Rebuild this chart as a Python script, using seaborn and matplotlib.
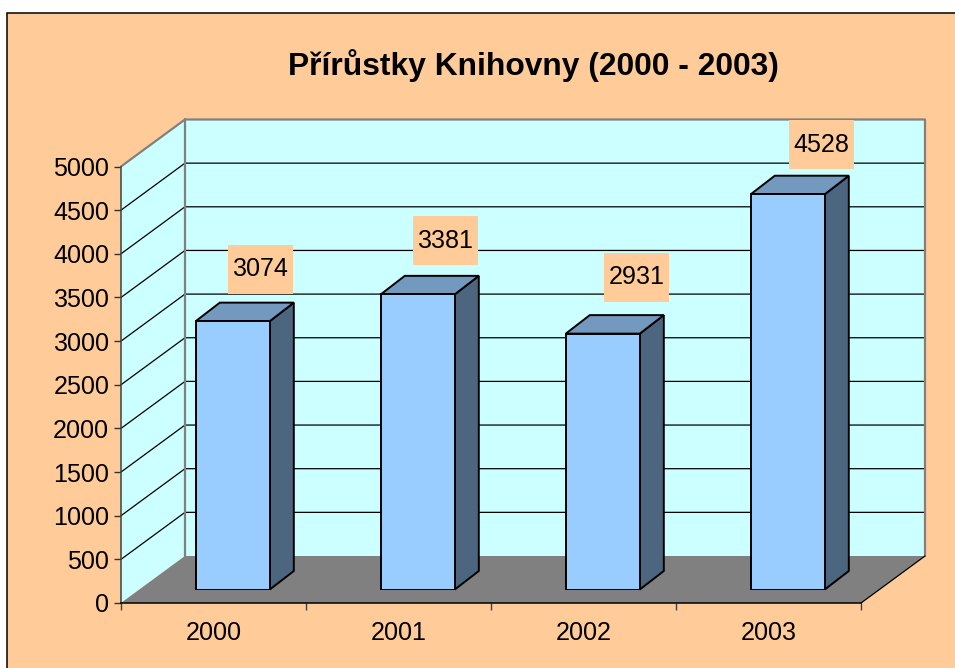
import matplotlib
matplotlib.use("Agg")
import matplotlib.pyplot as plt
from matplotlib.patches import Polygon, Rectangle
import seaborn as sns

# Data
years = ["2000", "2001", "2002", "2003"]
values = [3074, 3381, 2931, 4528]
y_ticks = list(range(0, 5001, 500))
title = "Přírůstky Knihovny (2000 - 2003)"

# Layout (pixels)
W, H = 955, 668
FRONT_L, FRONT_R, FRONT_B, FRONT_T = 121, 861, 603, 166.5
WALL_DX, WALL_DY = 64, 47
BAR_SHIFT_X, BAR_SHIFT_Y = 19.3, 13.5
BAR_DX, BAR_DY = 24, 18.5
LABEL_OFF_X = [27.5, 27.5, 33.5, 33.5]
LABEL_OFF_Y = [54.6, 56, 59, 52]

BG = "#FFCC99"
WALL = "#CCFFFF"
FLOOR = "#808080"
FRONT = "#99CCFF"
TOP = "#7399BF"
SIDE = "#4D6680"

sns.set_theme(style="white")
plt.rcParams["font.family"] = ["Liberation Sans", "DejaVu Sans"]

fig = plt.figure(figsize=(W / 100, H / 100), dpi=100, facecolor="white")
fig.add_artist(Rectangle((7 / W, -0.1), 1.1, 1.1 - 13.5 / H, transform=fig.transFigure,
                         facecolor=BG, edgecolor="black", linewidth=1.1, zorder=-10))

pos = [FRONT_L / W, (H - FRONT_B) / H, (FRONT_R - FRONT_L) / W, (FRONT_B - FRONT_T) / H]
ax = fig.add_axes(pos)
ax.patch.set_visible(False)
ax.set_xlim(-0.5, 3.5)
ax.set_ylim(0, 5000)

px_x = 4 / (FRONT_R - FRONT_L)
px_y = 5000 / (FRONT_B - FRONT_T)
dx = WALL_DX * px_x
dy = WALL_DY * px_y
x0, x1 = -0.5, 3.5
top = 5000

# Walls and floor
ax.add_patch(Polygon([(x0, 0), (x0 + dx, dy), (x0 + dx, top + dy), (x0, top)],
                     closed=True, facecolor=WALL, edgecolor="none", clip_on=False, zorder=1))
ax.add_patch(Rectangle((x0 + dx, dy), x1 - x0, top, facecolor=WALL, edgecolor="none",
                       clip_on=False, zorder=1))
ax.add_patch(Polygon([(x0, 0), (x1, 0), (x1 + dx, dy), (x0 + dx, dy)],
                     closed=True, facecolor=FLOOR, edgecolor="none", clip_on=False, zorder=2))

# Gridlines
for t in y_ticks[1:-1]:
    ax.plot([x0, x0 + dx, x1 + dx], [t, t + dy, t + dy], color="black", lw=0.9,
            clip_on=False, zorder=3, solid_joinstyle="miter")

# Wall outline
ax.plot([x0, x0 + dx, x1 + dx, x1 + dx], [top, top + dy, top + dy, dy], color="#808080",
        lw=1.6, clip_on=False, zorder=4)
ax.plot([x0 + dx, x0 + dx], [dy, top + dy], color="#808080", lw=1.6, clip_on=False, zorder=4)
ax.plot([x1, x1 + dx], [0, dy], color="black", lw=0.9, clip_on=False, zorder=4)

# Front axes
for s in ("top", "right"):
    ax.spines[s].set_visible(False)
ax.spines["left"].set_color("#404040")
ax.spines["left"].set_linewidth(1.1)
ax.spines["bottom"].set_color("black")
ax.spines["bottom"].set_linewidth(1.1)
for s in ax.spines.values():
    s.set_zorder(5)
ax.set_yticks(y_ticks)
ax.set_yticklabels([str(t) for t in y_ticks])
ax.set_xticks([-0.5, 0.5, 1.5, 2.5, 3.5])
ax.set_xticklabels([])
ax.set_xticks(range(len(years)), labels=years, minor=True)
ax.tick_params(axis="y", which="major", left=True, length=5, width=1, color="#303030",
               labelsize=18.1, pad=3.5, labelcolor="black")
ax.tick_params(axis="x", which="major", bottom=True, length=5, width=1, color="#404040")
ax.tick_params(axis="x", which="minor", bottom=False, length=0, labelsize=18.1, pad=13,
               labelcolor="black")

# Bars, in an overlay shifted to the middle of the floor's depth
bar_pos = [(FRONT_L + BAR_SHIFT_X) / W, (H - FRONT_B + BAR_SHIFT_Y) / H, pos[2], pos[3]]
bx = fig.add_axes(bar_pos)
bx.patch.set_visible(False)
sns.barplot(x=years, y=values, color=FRONT, saturation=1, width=0.4, edgecolor="black",
            linewidth=1.4, ax=bx, zorder=3)
bx.set_xlim(-0.5, 3.5)
bx.set_ylim(0, 5000)
bx.axis("off")

ddx = BAR_DX * px_x
ddy = BAR_DY * px_y
half = 0.2
for i, v in enumerate(values):
    l, r = i - half, i + half
    bx.add_patch(Polygon([(r, 0), (r + ddx, ddy), (r + ddx, v + ddy), (r, v)], closed=True,
                         facecolor=SIDE, edgecolor="black", linewidth=1.4, clip_on=False,
                         joinstyle="miter", zorder=2))
    bx.add_patch(Polygon([(l, v), (l + ddx, v + ddy), (r + ddx, v + ddy), (r, v)], closed=True,
                         facecolor=TOP, edgecolor="black", linewidth=1.4, clip_on=False,
                         joinstyle="miter", zorder=2))
    cx = i + LABEL_OFF_X[i] * px_x
    cy = v + LABEL_OFF_Y[i] * px_y
    bx.add_patch(Rectangle((cx - 32.5 * px_x, cy - 27 * px_y), 65 * px_x, 49 * px_y,
                           facecolor=BG, edgecolor="none", clip_on=False, zorder=4))
    bx.text(cx, cy, str(v), ha="center", va="center_baseline", fontsize=18.1, color="black",
            clip_on=False, zorder=5)

fig.text(533.5 / W, 1 - 65.5 / H, title, ha="center", va="center", fontsize=22.9,
         fontweight="bold", color="black")

fig.savefig("out.png", dpi=100, facecolor=fig.get_facecolor())
